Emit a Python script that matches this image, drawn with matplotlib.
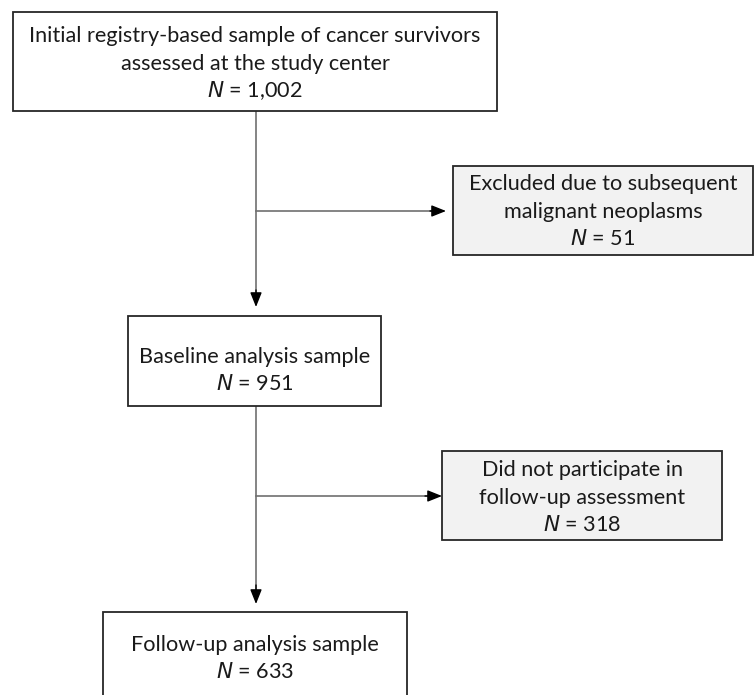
import matplotlib
matplotlib.use("Agg")
import matplotlib.pyplot as plt
from matplotlib.patches import Rectangle

plt.rcParams['font.family'] = ['Lato', 'DejaVu Sans']

# Flow steps: (label lines, N)
main_labels = ["Initial registry-based sample of cancer survivors\nassessed at the study center",
               "Baseline analysis sample",
               "Follow-up analysis sample"]
main_n = ["1,002", "951", "633"]
excl_labels = ["Excluded due to subsequent\nmalignant neoplasms",
               "Did not participate in\nfollow-up assessment"]
excl_n = ["51", "318"]

W, H = 755, 695
fig = plt.figure(figsize=(W/100, H/100), dpi=100)
ax = fig.add_axes([0, 0, 1, 1])
ax.set_xlim(0, W)
ax.set_ylim(H, 0)
ax.axis('off')

FS = 15.6
LINE = 27.5
EC = '#262626'
LC = '#6f6f6f'

def box(x0, y0, x1, y1, fill):
    ax.add_patch(Rectangle((x0, y0), x1 - x0, y1 - y0, facecolor=fill,
                           edgecolor=EC, lw=1.3, zorder=2))

def text_block(cx, ytop, label, n):
    lines = label.split("\n")
    for i, l in enumerate(lines):
        ax.text(cx, ytop + i * LINE, l, ha='center', va='center', fontsize=FS,
                color='#1a1a1a', zorder=3)
    ax.text(cx, ytop + len(lines) * LINE, r"$\mathit{N}$ = " + n, ha='center',
            va='center', fontsize=FS, color='#1a1a1a', zorder=3)

def arrow(x0, y0, x1, y1):
    ax.annotate("", xy=(x1, y1), xytext=(x0, y0),
                arrowprops=dict(arrowstyle='-|>,head_length=0.8,head_width=0.32',
                                color='black', lw=1.0,
                                mutation_scale=11, shrinkA=0, shrinkB=0),
                zorder=1)

# main boxes
main_boxes = [(13, 12, 497, 111), (128, 316, 381, 406), (103, 612, 407, 700)]
main_text_top = [36, 357, 645]
for (b, lab, n, ty) in zip(main_boxes, main_labels, main_n, main_text_top):
    box(*b, fill='white')
    text_block((b[0] + b[2]) / 2, ty, lab, n)

# exclusion boxes
excl_boxes = [(453, 166, 753, 255), (442, 451, 722, 540)]
excl_text_top = [184, 470]
for (b, lab, n, ty) in zip(excl_boxes, excl_labels, excl_n, excl_text_top):
    box(*b, fill='#f2f2f2')
    text_block((b[0] + b[2]) / 2, ty, lab, n)

# connectors
xv = 256
ax.plot([xv, xv], [111, 298], color=LC, lw=1.2, zorder=1)
arrow(xv, 290, xv, 307)
ax.plot([xv, xv], [406, 595], color=LC, lw=1.2, zorder=1)
arrow(xv, 585, xv, 604)
ax.plot([xv, 436], [211, 211], color=LC, lw=1.2, zorder=1)
arrow(430, 211, 446, 211)
ax.plot([xv, 432], [496, 496], color=LC, lw=1.2, zorder=1)
arrow(425, 496, 442, 496)

fig.savefig("out.png", dpi=100)
